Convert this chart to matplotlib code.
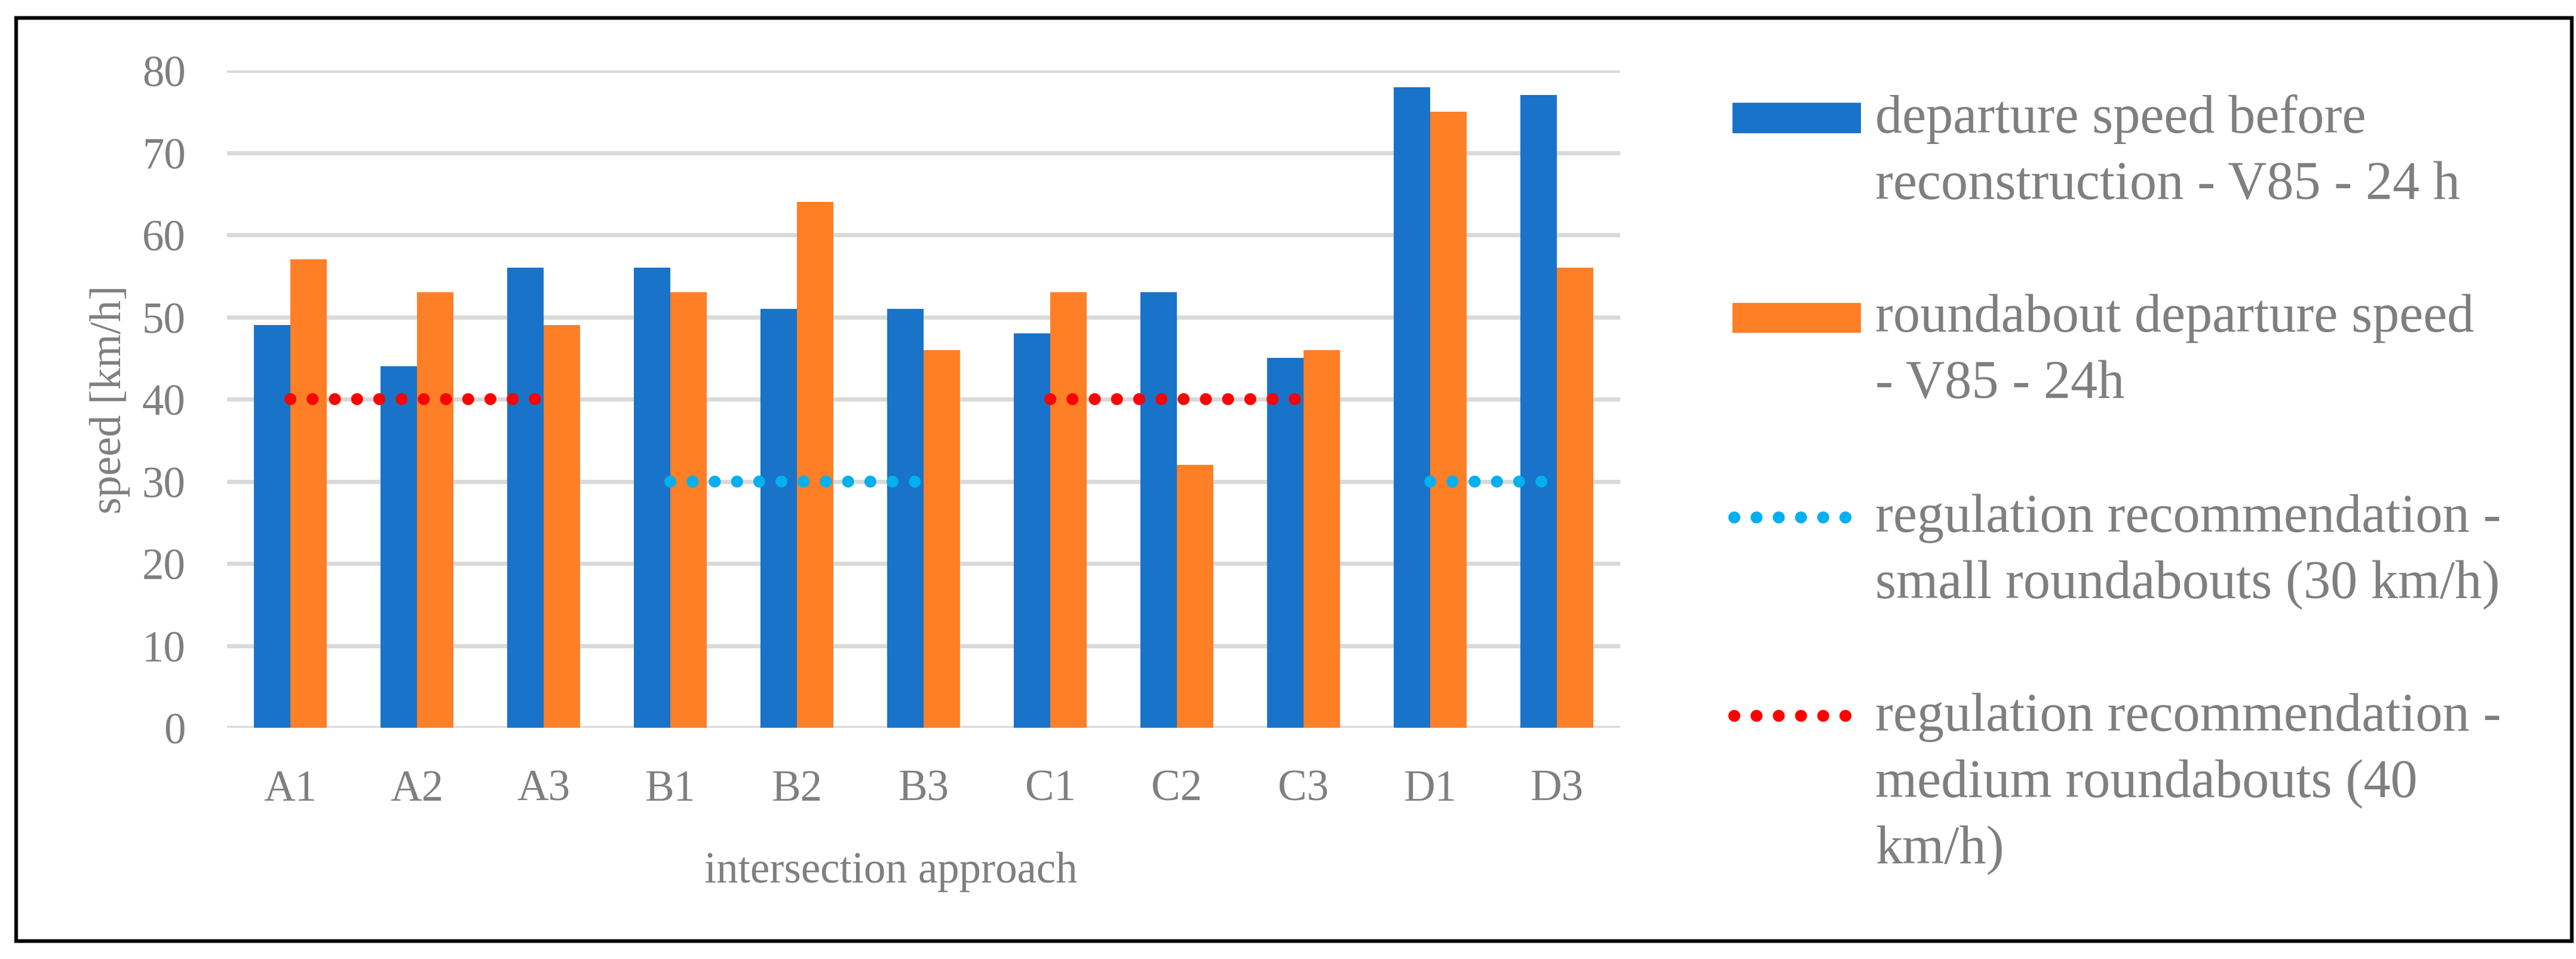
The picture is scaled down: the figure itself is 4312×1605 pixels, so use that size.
import matplotlib
matplotlib.use("Agg")
import matplotlib.pyplot as plt
import numpy as np
from matplotlib.patches import Rectangle
from matplotlib.lines import Line2D

# data
approaches = ["A1", "A2", "A3", "B1", "B2", "B3", "C1", "C2", "C3", "D1", "D3"]
before = [49, 44, 56, 56, 51, 51, 48, 53, 45, 78, 77]
roundabout = [57, 53, 49, 53, 64, 46, 53, 32, 46, 75, 56]
small_rec = [np.nan, np.nan, np.nan, 30, 30, 30, np.nan, np.nan, np.nan, 30, 30]
medium_rec = [40, 40, 40, np.nan, np.nan, np.nan, 40, 40, 40, np.nan, np.nan]
yticks = [0, 10, 20, 30, 40, 50, 60, 70, 80]

legend_lines = [
    ["departure speed before", "reconstruction - V85 - 24 h"],
    ["roundabout departure speed", "- V85 - 24h"],
    ["regulation recommendation -", "small roundabouts (30 km/h)"],
    ["regulation recommendation -", "medium roundabouts (40", "km/h)"],
]

BLUE = "#1873c9"
ORANGE = "#ff7f27"
CYAN = "#00b0f0"
RED = "#ff0000"
GREY = "#7f7f7f"

plt.rcParams['font.family'] = ['Liberation Serif', 'DejaVu Serif']

W, H = 4312, 1606
fig = plt.figure(figsize=(W / 100, H / 100), dpi=100)

def fx(x):
    return x / W

def fy(y):
    return 1 - y / H

ax = fig.add_axes([fx(380), fy(1219), 2332 / W, 1100 / H])

x = np.arange(len(approaches))
bw = 0.288
ax.bar(x - bw / 2, before, bw, color=BLUE, zorder=2)
ax.bar(x + bw / 2, roundabout, bw, color=ORANGE, zorder=2)

dots = (0, (0.01, 1.85))
ax.plot(x, small_rec, color=CYAN, lw=14.4, ls=dots, dash_capstyle="round", zorder=3)
ax.plot(x, medium_rec, color=RED, lw=14.4, ls=dots, dash_capstyle="round", zorder=3)

ax.set_xlim(-0.5, len(approaches) - 0.5)
ax.set_ylim(0, 80)
ax.set_yticks(yticks)
ax.set_xticks(x)
ax.set_xticklabels(approaches)
ax.yaxis.grid(True, color="#d9d9d9", lw=5, zorder=0)
ax.set_axisbelow(True)
for s in ax.spines.values():
    s.set_visible(False)
ax.tick_params(axis="both", length=0, labelsize=52.5, labelcolor=GREY)
ax.tick_params(axis="y", pad=50)
ax.tick_params(axis="x", pad=50)

ax.set_xlabel("intersection approach", fontsize=52.5, color=GREY, va="baseline")
ax.xaxis.set_label_coords((1491 - 380) / 2332, (1219 - 1477) / 1100)
ax.set_ylabel("speed [km/h]", fontsize=52.5, color=GREY, va="baseline")
ax.yaxis.set_label_coords((202 - 380) / 2332, 0.5)

# legend, drawn by hand so the keys sit on the first text line
first_base = [222, 555, 890, 1223]
step = 111
for i, lines in enumerate(legend_lines):
    b = first_base[i]
    for j, t in enumerate(lines):
        fig.text(fx(3139), fy(b + j * step), t, fontsize=65, color=GREY, va="baseline", ha="left")

fig.add_artist(Rectangle((fx(2900), fy(224)), 215 / W, 51 / H, transform=fig.transFigure,
                         color=BLUE, lw=0))
fig.add_artist(Rectangle((fx(2900), fy(558)), 215 / W, 50 / H, transform=fig.transFigure,
                         color=ORANGE, lw=0))
fig.add_artist(Line2D([fx(2903), fx(3093)], [fy(867), fy(867)], transform=fig.transFigure,
                      color=CYAN, lw=14.4, ls=dots, dash_capstyle="round"))
fig.add_artist(Line2D([fx(2903), fx(3093)], [fy(1199), fy(1199)], transform=fig.transFigure,
                      color=RED, lw=14.4, ls=dots, dash_capstyle="round"))

# outer frame
fig.add_artist(Rectangle((fx(27), fy(1576)), (4305 - 27) / W, (1576 - 31) / H,
                         transform=fig.transFigure, fill=False, ec="black", lw=4.5))

fig.savefig("out.png", dpi=100)
